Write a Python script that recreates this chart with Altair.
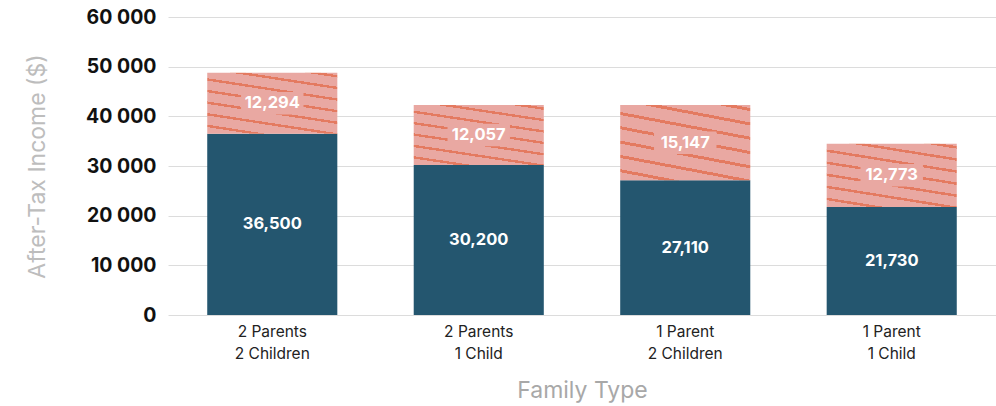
import altair as alt
import pandas as pd

families = ["2 Parents\n2 Children", "2 Parents\n1 Child", "1 Parent\n2 Children", "1 Parent\n1 Child"]
base_income = [36500, 30200, 27110, 21730]
benefit = [12294, 12057, 15147, 12773]
y_ticks = [0, 10000, 20000, 30000, 40000, 50000, 60000]

DARK = "#24566f"
PINK = "#e9a8a2"
STRIPE = "#e47a60"
FONT = "Inter"

df = pd.DataFrame({"family": families, "base": base_income, "benefit": benefit})

# hatch pattern as a hard-stop linear gradient
period = 0.143
frac = 0.21
stops = []
off = 0.03
while off < 1.0:
    a = off
    b = min(off + frac * period, 1.0)
    stops.append({"offset": round(a, 4), "color": PINK})
    stops.append({"offset": round(a, 4), "color": STRIPE})
    stops.append({"offset": round(b, 4), "color": STRIPE})
    stops.append({"offset": round(b, 4), "color": PINK})
    off += period
stops = [{"offset": 0, "color": PINK}] + stops + [{"offset": 1, "color": PINK}]
hatch = {"gradient": "linear", "x1": 1, "y1": 0, "x2": 0.604, "y2": 1.2, "stops": stops}

x_enc = alt.X(
    "family:N",
    sort=families,
    scale=alt.Scale(paddingInner=0.37, paddingOuter=0.19),
    axis=alt.Axis(
        title="Family Type",
        labelExpr="split(datum.label, '\\n')",
        labelAngle=0,
        labelFont=FONT,
        labelFontSize=15.5,
        labelColor="#222222",
        labelLineHeight=22,
        labelPadding=9,
        labelBaseline="top",
        domain=False,
        ticks=False,
        titleFont=FONT,
        titleFontSize=23,
        titleFontWeight="normal",
        titleColor="#a8a8a8",
        titlePadding=18,
    ),
)

y_scale = alt.Scale(domain=[0, 60000], nice=False)
y_axis = alt.Axis(
    title="After-Tax Income ($)",
    values=y_ticks,
    labelExpr="replace(format(datum.value, ','), ',', ' ')",
    labelFont=FONT,
    labelFontSize=19.5,
    labelFontWeight="bold",
    labelColor="#111111",
    labelPadding=12,
    domain=False,
    ticks=False,
    grid=True,
    gridColor="#dcdcdc",
    titleFont=FONT,
    titleFontSize=23,
    titleFontWeight="normal",
    titleColor="#bdbdbd",
    titlePadding=36,
)

base = alt.Chart(df).transform_calculate(
    total="datum.base + datum.benefit",
    mid_base="datum.base / 2",
    mid_ben="datum.base + datum.benefit / 2",
)

dark_bars = base.mark_bar(color=DARK).encode(
    x=x_enc,
    y=alt.Y("base:Q", scale=y_scale, axis=y_axis),
)

pink_bars = base.mark_bar(color=hatch).encode(
    x=alt.X("family:N", sort=families),
    y=alt.Y("base:Q"),
    y2=alt.Y2("total:Q"),
)

label_bg = base.mark_point(
    shape="M-1,-0.36L1,-0.36L1,0.36L-1,0.36Z",
    filled=True,
    color=PINK,
    opacity=1,
    size=3900,
    strokeWidth=0,
).encode(
    x=alt.X("family:N", sort=families),
    y=alt.Y("mid_ben:Q"),
)

txt_ben = base.mark_text(color="white", font=FONT, fontSize=16.5, fontWeight="bold").encode(
    x=alt.X("family:N", sort=families),
    y=alt.Y("mid_ben:Q"),
    text=alt.Text("benefit:Q", format=","),
)

txt_base = base.mark_text(color="white", font=FONT, fontSize=16.5, fontWeight="bold").encode(
    x=alt.X("family:N", sort=families),
    y=alt.Y("mid_base:Q"),
    text=alt.Text("base:Q", format=","),
)

chart = alt.layer(dark_bars, pink_bars, label_bg, txt_ben, txt_base).properties(
    width=828,
    height=298,
    autosize=alt.AutoSizeParams(type="none"),
    padding={"left": 168, "top": 17, "right": 0, "bottom": 91},
).configure_view(stroke=None)

chart.save("out.html", embed_options={"renderer": "svg", "actions": False})
